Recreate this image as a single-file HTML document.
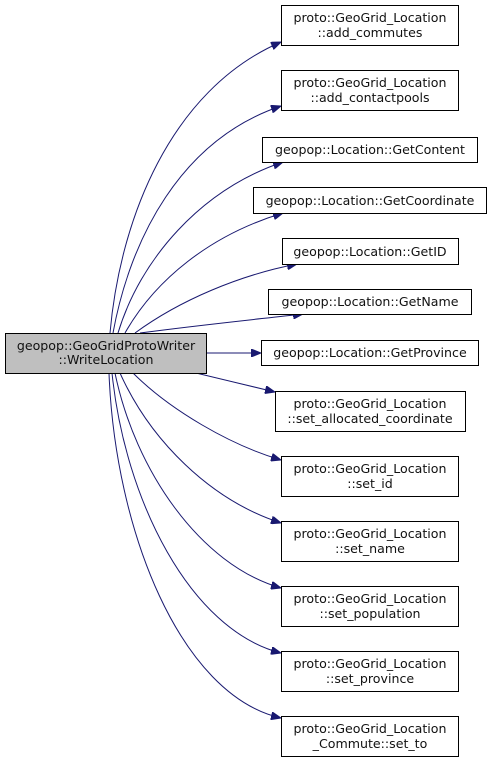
<!DOCTYPE html>
<html><head><meta charset="utf-8"><style>
html,body{margin:0;padding:0;background:#fff;}
svg{display:block;}
text{font-family:"DejaVu Sans",sans-serif;font-size:12.6px;fill:#111;}
</style></head><body>
<svg width="492" height="764" viewBox="0 0 492 764" xmlns="http://www.w3.org/2000/svg">
<defs>
<marker id="a" markerWidth="10" markerHeight="8" refX="10" refY="4" orient="auto" markerUnits="userSpaceOnUse">
<path d="M0,0 L10,4 L0,8 z" fill="#191970" stroke="#191970"/>
</marker>
</defs>
<g fill="none" stroke="#191970" stroke-width="1" marker-end="url(#a)">
<path d="M110,333 C120,220 170,90 281,42"/>
<path d="M113,333 C130,240 180,140 281,106"/>
<path d="M118,333 C140,260 200,190 283,162"/>
<path d="M125,333 C155,280 210,235 283,213"/>
<path d="M135,333 C180,300 240,275 297,264"/>
<path d="M140,333 C200,325 250,320 303,314"/>
<path d="M206,353 L261,353"/>
<path d="M196,373 L275,392"/>
<path d="M133,373 C170,410 230,445 281,460"/>
<path d="M120,373 C150,440 210,500 281,523"/>
<path d="M115,373 C135,470 200,565 281,588"/>
<path d="M112,373 C125,500 190,630 281,653"/>
<path d="M109,373 C115,530 180,695 281,718"/>
</g>
<g stroke-width="1">
<rect x="5.5" y="333.5" width="201" height="40" fill="#bfbfbf" stroke="#000"/>
<g fill="#fff" stroke="#000">
<rect x="281.5" y="5.5" width="177" height="40"/>
<rect x="281.5" y="70.5" width="177" height="40"/>
<rect x="262.5" y="137.5" width="215" height="25"/>
<rect x="253.5" y="187.5" width="233" height="26"/>
<rect x="282.5" y="238.5" width="176" height="26"/>
<rect x="268.5" y="289.5" width="203" height="25"/>
<rect x="261.5" y="340.5" width="217" height="25"/>
<rect x="275.5" y="391.5" width="190" height="40"/>
<rect x="281.5" y="456.5" width="177" height="40"/>
<rect x="281.5" y="521.5" width="177" height="40"/>
<rect x="281.5" y="586.5" width="177" height="40"/>
<rect x="281.5" y="651.5" width="177" height="40"/>
<rect x="281.5" y="716.5" width="177" height="40"/>
</g>
</g>
<g text-anchor="middle">
<text x="106" y="350">geopop::GeoGridProtoWriter</text>
<text x="106" y="364">::WriteLocation</text>
<text x="370" y="22">proto::GeoGrid_Location</text>
<text x="370" y="37">::add_commutes</text>
<text x="370" y="87">proto::GeoGrid_Location</text>
<text x="370" y="102">::add_contactpools</text>
<text x="370" y="154">geopop::Location::GetContent</text>
<text x="370" y="205">geopop::Location::GetCoordinate</text>
<text x="370" y="256">geopop::Location::GetID</text>
<text x="370" y="306">geopop::Location::GetName</text>
<text x="370" y="357">geopop::Location::GetProvince</text>
<text x="370" y="408">proto::GeoGrid_Location</text>
<text x="370" y="423">::set_allocated_coordinate</text>
<text x="370" y="473">proto::GeoGrid_Location</text>
<text x="370" y="488">::set_id</text>
<text x="370" y="538">proto::GeoGrid_Location</text>
<text x="370" y="553">::set_name</text>
<text x="370" y="603">proto::GeoGrid_Location</text>
<text x="370" y="618">::set_population</text>
<text x="370" y="668">proto::GeoGrid_Location</text>
<text x="370" y="683">::set_province</text>
<text x="370" y="733">proto::GeoGrid_Location</text>
<text x="370" y="748">_Commute::set_to</text>
</g>
</svg>
</body></html>
